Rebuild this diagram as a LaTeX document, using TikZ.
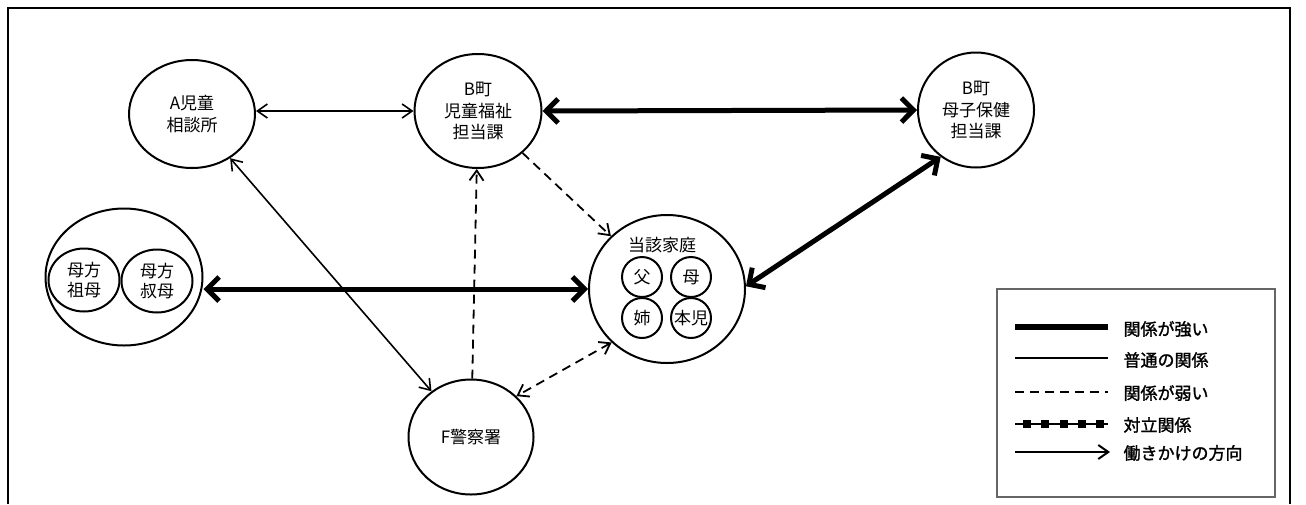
\documentclass[tikz,border=0pt]{standalone}
\usepackage{fontspec}
\setmainfont{Noto Sans CJK JP}
\newfontfamily\legendfont{Noto Sans CJK JP}[FakeBold=1.5]
\usetikzlibrary{arrows.meta,shapes.geometric}
\tikzset{
    agency/.style={ellipse,draw,line width=2pt,inner sep=0pt,align=center,font=\fontsize{17}{21.5}\selectfont},
    member/.style={circle,draw,line width=2pt,inner sep=0pt,minimum size=40pt,font=\fontsize{17}{20}\selectfont},
    relative/.style={ellipse,draw,line width=2pt,inner sep=0pt,align=center,minimum width=71pt,minimum height=63pt,font=\fontsize{17}{19.5}\selectfont},
    tip/.style={>={Straight Barb[length=10pt,width=14pt]}},
    bigtip/.style={>={Straight Barb[length=12pt,width=24pt]}},
    arr/.style={->,tip,line width=1.6pt},
    darr/.style={<->,tip,line width=1.6pt},
    strong/.style={<->,bigtip,line width=5pt},
    weak/.style={dash pattern=on 9pt off 6pt,line width=1.8pt},
    frame/.style={line width=2.3pt},
    legend box/.style={draw=black!60,line width=1.2pt},
    legend text/.style={anchor=west,font=\fontsize{17}{20}\legendfont},
}

\begin{document}
\begin{tikzpicture}[x=1pt,y=-1pt]
    \useasboundingbox (0,0) rectangle (1306,504);
    \draw[frame] (8,504) -- (8,8) -- (1290,8) -- (1290,504);

    % agencies
    \node[agency,minimum width=126pt,minimum height=108pt] (A) at (192,114) {A児童\\相談所};
    \node[agency,minimum width=127pt,minimum height=114pt] (B) at (478,111) {B町\\児童福祉\\担当課};
    \node[agency,minimum width=116pt,minimum height=115pt] (bh) at (976,110) {B町\\母子保健\\担当課};
    \node[agency,minimum width=125pt,minimum height=115pt] (F) at (471,437) {F警察署};

    % family
    \node[agency,minimum width=156pt,minimum height=148pt] (kt) at (667,289) {};
    \node[font=\fontsize{17}{20}\selectfont] (ktlbl) at (662,245) {当該家庭};
    \node[member] (fa) at (642,277) {父};
    \node[member] (mo) at (691,277) {母};
    \node[member] (si) at (642,318) {姉};
    \node[member] (ch) at (691,318) {本児};

    % mother's relatives
    \node[agency,minimum width=157pt,minimum height=137pt] (mg) at (124,277) {};
    \node[relative] (gm) at (84,280) {母方\\祖母};
    \node[relative] (au) at (157,281) {母方\\叔母};

    % relations
    \draw[darr] (A.east |- B.west) -- (B.west);
    \draw[strong] (B.east) -- (bh.west);
    \draw[strong] (kt.2) -- (bh.233);
    \draw[strong] (mg.east |- kt.west) -- (kt.west);
    \draw[darr] (A) -- (F);
    \draw[arr,weak] (F) -- (B);
    \draw[arr,weak] (B) -- (kt);
    \draw[darr,weak] (kt.224) -- (F.42);

    % legend
    \draw[legend box] (997,289) rectangle (1275,497);
    \draw[line width=6pt] (1015,327) -- (1108,327);
    \node[legend text] at (1120,329) {関係が強い};
    \draw[line width=2pt] (1015,358) -- (1108,358);
    \node[legend text] at (1120,360) {普通の関係};
    \draw[weak] (1015,392) -- (1108,392);
    \node[legend text] at (1120,393) {関係が弱い};
    \draw[line width=2.5pt] (1015,424) -- (1108,424);
    \foreach \x in {1027,1045,1064,1082,1100}
        \fill (\x-4,420) rectangle +(8,8);
    \node[legend text] at (1120,425) {対立関係};
    \draw[arr,line width=2pt] (1015,452) -- (1110,452);
    \node[legend text] at (1120,453) {働きかけの方向};
\end{tikzpicture}
\end{document}
